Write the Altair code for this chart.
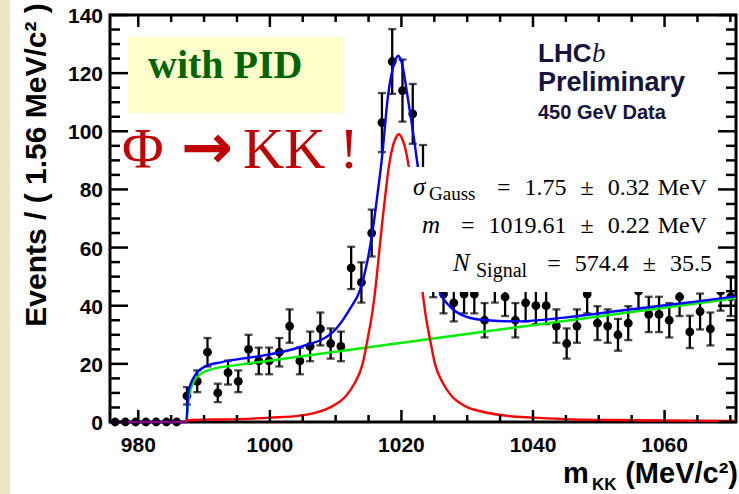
import altair as alt
import pandas as pd
import numpy as np

# ---------------- data ----------------
X_MIN, X_MAX = 975.7, 1070.86
BIN_W = 1.56
counts = [0, 0, 0, 0, 0, 0, 0,
          9, 14, 24, 10, 17, 14, 25, 21, 21, 24,
          33, 21, 26, 32, 27, 26, 53, 48, 65, 103,
          124, 114, 106, 86, 50, 44, 41, 44, 44, 35,
          48, 43, 35, 41, 40, 40, 33, 27, 33, 44,
          34, 33, 30, 34, 45, 37, 37, 35, 43, 31,
          38, 32, 45, 43]

blue_m = [975.7, 987.3, 987.6, 988.6, 990.1, 992.7, 997.0, 999.3, 1004.6, 1009.6,
          1012.2, 1013.7, 1014.8, 1015.7, 1016.4, 1017.0, 1017.95, 1019.0, 1019.5,
          1020.0, 1021.0, 1022.0, 1022.6, 1023.5, 1024.5, 1025.85, 1027.4, 1029.9,
          1033.0, 1037.5, 1045.1, 1055.0, 1065.0, 1070.86]
blue_v = [0, 0, 10, 16, 19, 20.6, 22.2, 23, 25.8, 31,
          39, 45.4, 55, 67, 79, 90, 112, 124, 126,
          124, 111, 96, 86, 71, 57, 44.7, 39.7, 36.2,
          35, 34.6, 36, 38.8, 41.5, 43.2]

green_m = [987.35, 987.6, 988.0, 988.6, 989.5, 990.5, 992.0, 994.0, 997.0, 1035.0, 1070.86]
green_v = [0, 7, 11.5, 14.5, 16.5, 17.7, 18.6, 19.3, 20.2, 31.8, 42.6]

red_m = [975.7, 987.35, 987.4, 995.0, 1000.0, 1004.6, 1007.0, 1009.3, 1011.6, 1012.9,
         1014.1, 1014.9, 1015.6, 1016.1, 1016.6, 1017.1, 1017.6, 1018.1, 1018.6, 1019.1,
         1019.6, 1020.1, 1020.6, 1021.1, 1021.6, 1022.1, 1022.6, 1023.1, 1023.6, 1024.3,
         1025.1, 1026.3, 1027.6, 1029.9, 1032.2, 1035.0, 1040.0, 1045.0, 1055.0, 1070.86]
red_v = [0, 0, 0.6, 1.0, 1.5, 2.2, 3.2, 5.2, 9, 13.4,
         20, 29, 38, 47, 58, 69, 79, 88, 94, 97.5,
         99, 97.5, 94, 88, 79, 69, 58, 47, 38, 29,
         20, 13.4, 9, 5.2, 3.6, 2.4, 1.5, 1.0, 0.6, 0.35]

x_ticks_major = [980, 1000, 1020, 1040, 1060]
x_ticks_minor = [985, 990, 995, 1005, 1010, 1015, 1025, 1030, 1035, 1045, 1050, 1055, 1065, 1070]
y_ticks_major = [0, 20, 40, 60, 80, 100, 120, 140]
y_ticks_minor = [v for v in range(5, 140, 5) if v % 20 != 0]

# ---------------- tables ----------------
centers = [X_MIN + BIN_W * (k + 0.5) for k in range(len(counts))]
pts = pd.DataFrame({"m": centers, "n": counts})
pts["err"] = np.sqrt(pts["n"])
pts["lo"] = pts["n"] - pts["err"]
pts["hi"] = pts["n"] + pts["err"]
err = pts[pts["n"] > 0]

blue = pd.DataFrame({"m": blue_m, "v": blue_v})
green = pd.DataFrame({"m": green_m, "v": green_v})
red = pd.DataFrame({"m": red_m, "v": red_v})
red_main = red[red["m"] >= 987.35]
red_below = red[red["m"] <= 987.35]

W, H = 626, 407
xs = alt.Scale(domain=[X_MIN, X_MAX], nice=False, zero=False)
ys = alt.Scale(domain=[0, 140], nice=False, zero=True)
one = pd.DataFrame({"a": [0]})
AXF = "Liberation Sans"

X = lambda f: alt.X(f, scale=xs, axis=None)
Y = lambda f: alt.Y(f, scale=ys, axis=None)

points = alt.Chart(pts).mark_circle(size=78, color="black", opacity=1).encode(
    x=X("m:Q"), y=Y("n:Q"))
bars = alt.Chart(err).mark_rule(color="black", strokeWidth=2.3).encode(
    x=X("m:Q"), y=Y("lo:Q"), y2="hi:Q")
caps_lo = alt.Chart(err).mark_tick(color="black", orient="horizontal", size=8, thickness=2.3).encode(
    x=X("m:Q"), y=Y("lo:Q"))
caps_hi = alt.Chart(err).mark_tick(color="black", orient="horizontal", size=8, thickness=2.3).encode(
    x=X("m:Q"), y=Y("hi:Q"))


def curve(df, color, opacity=1.0):
    return alt.Chart(df).mark_line(color=color, strokeWidth=2.4, interpolate="monotone",
                                   strokeOpacity=opacity).encode(
        x=X("m:Q"), y=Y("v:Q"), order="m:Q")


l_green = curve(green, "#00ee00")
l_blue = curve(blue, "#0000ff")
l_red = curve(red_main, "#ff0000")
l_red_below = curve(red_below, "#ff0000", 0.5)


def rect(x, x2, y, y2, color):
    return alt.Chart(one).mark_rect(color=color, opacity=1).encode(
        x=alt.value(x), x2=alt.value(x2), y=alt.value(y), y2=alt.value(y2))


def txt(s, x, y, size, font="Liberation Serif", weight="normal", style="normal",
        color="black", align="left", baseline="alphabetic", angle=0):
    return alt.Chart(one).mark_text(text=s, font=font, fontSize=size, fontWeight=weight,
                                    fontStyle=style, color=color, align=align,
                                    baseline=baseline, angle=angle).encode(
        x=alt.value(x), y=alt.value(y))


# axis labels as text marks
ylab = alt.Chart(pd.DataFrame({"t": y_ticks_major})).mark_text(
    font=AXF, fontWeight="bold", fontSize=21, color="black", align="right",
    baseline="alphabetic", dy=8).encode(
    y=Y("t:Q"), x=alt.value(-7), text=alt.Text("t:Q", format="d"))
xlab = alt.Chart(pd.DataFrame({"t": x_ticks_major})).mark_text(
    font=AXF, fontWeight="bold", fontSize=21, color="black", align="center",
    baseline="alphabetic").encode(
    x=X("t:Q"), y=alt.value(H + 30), text=alt.Text("t:Q", format="d"))
ytitle = txt("Events / ( 1.56 MeV/c² )", -73, 150, 30, font=AXF, weight="bold",
             align="center", baseline="middle", angle=270)
xtitle = [
    txt("m", 453, 468, 29, font=AXF, weight="bold"),
    txt("KK", 482, 475, 17, font=AXF, weight="bold"),
    txt("(MeV/c²)", 628, 468, 29, font=AXF, weight="bold", align="right"),
]

# plot-area coordinates (origin at the frame's top-left corner)
fit_box = rect(295, 618, 152, 277, "white")
SP = "\u2002\u200a"
fit_texts = [
    txt("σ", 303, 180, 25, style="italic"),
    txt("Gauss", 319, 185, 19),
    txt("=" + SP + "1.75" + SP + "±" + SP + "0.32\u2004MeV", 597, 180, 24, align="right"),
    txt("m", 312, 218, 25, style="italic"),
    txt("=" + SP + "1019.61" + SP + "±" + SP + "0.22\u2004MeV", 597, 218, 24, align="right"),
    txt("N", 343, 256, 25, style="italic"),
    txt("Signal", 366, 262, 20),
    txt("=" + SP + "574.4" + SP + "±" + SP + "35.5", 602, 256, 24, align="right"),
]

pid_box = rect(18, 234, 22, 98, "#ffffcc")
pid_texts = [
    txt("with PID", 38, 63, 40, weight="bold", color="#006400"),
    txt("Φ", 12, 153, 57, color="#c00000"),
    txt("→", 71, 153, 62, font="DejaVu Sans", weight="bold", color="#c00000"),
    txt("KK !", 133, 153, 57, color="#c00000"),
]

lhcb_texts = [
    txt("LHC", 428, 47, 26, font=AXF, weight="bold", color="#14143c"),
    txt("b", 482, 47, 27, style="italic", color="#14143c"),
    txt("Preliminary", 428, 76, 27, font=AXF, weight="bold", color="#14143c"),
    txt("450 GeV Data", 428, 104, 20, font=AXF, weight="bold", color="#14143c"),
]

beige = rect(-110, -100, -15, 479, "#efe4c4")


def yticks(vals, length):
    d = pd.DataFrame({"t": vals})
    left = alt.Chart(d).mark_rule(color="black", strokeWidth=2.5).encode(
        y=Y("t:Q"), x=alt.value(0), x2=alt.value(length))
    right = alt.Chart(d).mark_rule(color="black", strokeWidth=2.5).encode(
        y=Y("t:Q"), x=alt.value(W - length), x2=alt.value(W))
    return [left, right]


def xticks(vals, length):
    d = pd.DataFrame({"t": vals})
    bot = alt.Chart(d).mark_rule(color="black", strokeWidth=2.5).encode(
        x=X("t:Q"), y=alt.value(H - length), y2=alt.value(H))
    top = alt.Chart(d).mark_rule(color="black", strokeWidth=2.5).encode(
        x=X("t:Q"), y=alt.value(0), y2=alt.value(length))
    return [bot, top]


tick_layers = (yticks(y_ticks_major, 18) + yticks(y_ticks_minor, 10)
               + xticks(x_ticks_major, 12) + xticks(x_ticks_minor, 7))

chart = alt.layer(
    beige, pid_box,
    points, bars, caps_lo, caps_hi,
    l_green, l_blue, l_red, l_red_below,
    fit_box, *fit_texts, *pid_texts, *lhcb_texts,
    ylab, xlab, ytitle, *xtitle, *tick_layers,
).properties(
    width=W, height=H,
    padding={"left": 110, "top": 15, "right": 3, "bottom": 72},
    autosize=alt.AutoSizeParams(type="none"),
    background="white",
).configure_view(stroke="black", strokeWidth=3)

chart.save("out.html", embed_options={"renderer": "svg", "actions": False})
